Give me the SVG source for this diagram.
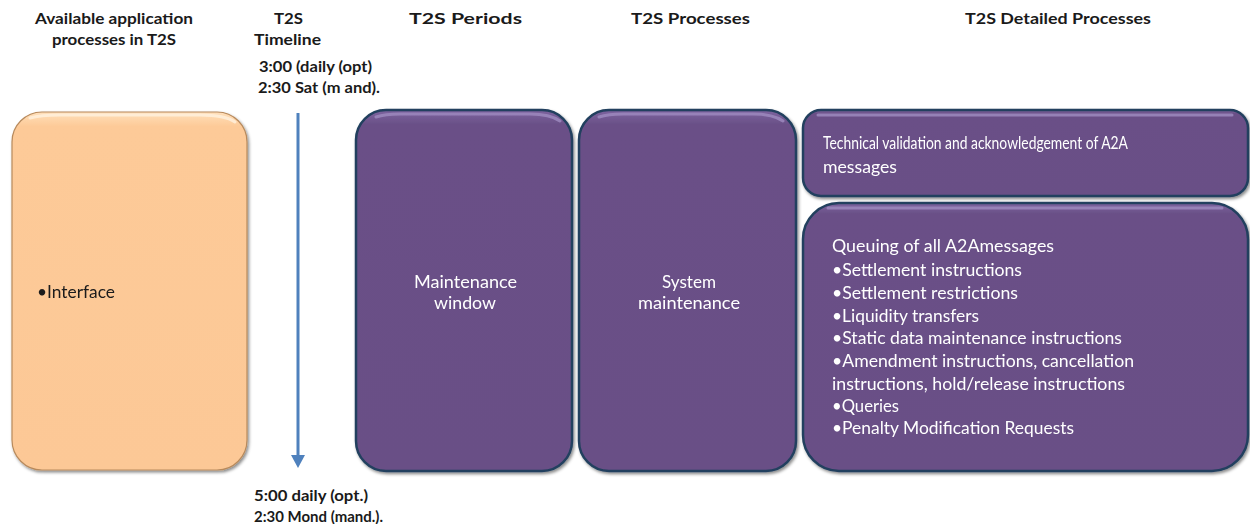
<svg xmlns="http://www.w3.org/2000/svg" width="1250" height="524" viewBox="0 0 1250 524">
<defs>
<style>
.hdr{font-family:Lato,"Liberation Sans",Arial,sans-serif;font-weight:bold;font-size:15.5px;fill:#1a1a1a}
.tl{font-family:Lato,"Liberation Sans",Arial,sans-serif;font-weight:bold;font-size:15px;fill:#1a1a1a}
.wt{font-family:Lato,"Liberation Sans",Arial,sans-serif;font-size:16.5px;fill:#ffffff}
.blk{font-family:Lato,"Liberation Sans",Arial,sans-serif;font-size:16.5px;fill:#1a1a1a}
.pbox{fill:url(#pg);stroke:#22405e;stroke-width:2.5}
.obox{fill:url(#og);stroke:#b88a5c;stroke-width:1.2}
.hl{fill:none;stroke-width:3;stroke-linecap:round}
</style>
<linearGradient id="pg" x1="0" y1="0" x2="0" y2="1">
<stop offset="0" stop-color="#7d64a0"/>
<stop offset="0.04" stop-color="#6a5087"/>
<stop offset="1" stop-color="#694f86"/>
</linearGradient>
<linearGradient id="og" x1="0" y1="0" x2="0" y2="1">
<stop offset="0" stop-color="#ffe0bb"/>
<stop offset="0.04" stop-color="#fdca98"/>
<stop offset="1" stop-color="#fcc896"/>
</linearGradient>
<filter id="sh" x="-10%" y="-10%" width="120%" height="120%">
<feDropShadow dx="1.5" dy="2" stdDeviation="1.5" flood-color="#000" flood-opacity="0.45"/>
</filter>
</defs>

<g id="headers">
<text class="hdr" x="35" y="24" textLength="158" lengthAdjust="spacingAndGlyphs">Available application</text>
<text class="hdr" x="52" y="45" textLength="124" lengthAdjust="spacingAndGlyphs">processes in T2S</text>
<text class="hdr" x="274" y="24" textLength="29" lengthAdjust="spacingAndGlyphs">T2S</text>
<text class="hdr" x="254" y="45" textLength="67" lengthAdjust="spacingAndGlyphs">Timeline</text>
<text class="hdr" x="409" y="24" textLength="113" lengthAdjust="spacingAndGlyphs">T2S Periods</text>
<text class="hdr" x="631" y="24" textLength="119" lengthAdjust="spacingAndGlyphs">T2S Processes</text>
<text class="hdr" x="965" y="24" textLength="186" lengthAdjust="spacingAndGlyphs">T2S Detailed Processes</text>
</g>

<g id="timeline-labels">
<text class="tl" x="259" y="72" textLength="113" lengthAdjust="spacingAndGlyphs">3:00 (daily (opt)</text>
<text class="tl" x="258" y="93" textLength="122" lengthAdjust="spacingAndGlyphs">2:30 Sat (m and).</text>
<text class="tl" x="254" y="501" textLength="114" lengthAdjust="spacingAndGlyphs">5:00 daily (opt.)</text>
<text class="tl" x="254" y="522" textLength="129" lengthAdjust="spacingAndGlyphs">2:30 Mond (mand.).</text>
</g>

<g id="connectors">
<line x1="298" y1="113" x2="298" y2="456" stroke="#4f81bd" stroke-width="3"/>
<polygon points="291,455 305,455 298,468" fill="#4f81bd"/>
</g>

<g id="node-interface" filter="url(#sh)">
<rect class="obox" x="12" y="112" width="235" height="358" rx="30" ry="30"/>
<path class="hl" stroke="#fff1de" d="M30,118 Q40,115 60,115 L200,115 Q225,115 235,122" opacity="0.8"/>
<text class="blk" x="37" y="298" textLength="78" lengthAdjust="spacingAndGlyphs">•Interface</text>
</g>

<g id="node-maintenance-window" filter="url(#sh)">
<rect class="pbox" x="356" y="110" width="216" height="361" rx="30" ry="30"/>
<path class="hl" stroke="#9a86bb" d="M376,117 Q385,114 400,114 L530,114 Q550,114 560,121" opacity="0.9"/>
<text class="wt" x="414" y="288" textLength="103" lengthAdjust="spacingAndGlyphs">Maintenance</text>
<text class="wt" x="434" y="309" textLength="62" lengthAdjust="spacingAndGlyphs">window</text>
</g>

<g id="node-system-maintenance" filter="url(#sh)">
<rect class="pbox" x="579" y="110" width="217" height="361" rx="30" ry="30"/>
<path class="hl" stroke="#9a86bb" d="M599,117 Q608,114 623,114 L753,114 Q773,114 783,121" opacity="0.9"/>
<text class="wt" x="662" y="288" textLength="54" lengthAdjust="spacingAndGlyphs">System</text>
<text class="wt" x="638" y="309" textLength="102" lengthAdjust="spacingAndGlyphs">maintenance</text>
</g>

<g id="node-technical-validation" filter="url(#sh)">
<rect class="pbox" x="803" y="110" width="445" height="86" rx="18" ry="18"/>
<path class="hl" stroke="#9a86bb" d="M818,115 L1232,115" opacity="0.9"/>
<text class="wt" x="823" y="149" textLength="305" lengthAdjust="spacingAndGlyphs">Technical validation and acknowledgement of A2A</text>
<text class="wt" x="823" y="173" textLength="74" lengthAdjust="spacingAndGlyphs">messages</text>
</g>

<g id="node-queuing" filter="url(#sh)">
<rect class="pbox" x="803" y="203" width="445" height="268" rx="36" ry="36"/>
<path class="hl" stroke="#9a86bb" d="M828,208 L1222,208" opacity="0.9"/>
<text class="wt" x="832" y="252" textLength="222" lengthAdjust="spacingAndGlyphs">Queuing of all A2Amessages</text>
<text class="wt" x="832" y="276" textLength="190" lengthAdjust="spacingAndGlyphs">•Settlement  instructions</text>
<text class="wt" x="832" y="299" textLength="186" lengthAdjust="spacingAndGlyphs">•Settlement  restrictions</text>
<text class="wt" x="832" y="322" textLength="147" lengthAdjust="spacingAndGlyphs">•Liquidity transfers</text>
<text class="wt" x="832" y="344" textLength="290" lengthAdjust="spacingAndGlyphs">•Static data maintenance instructions</text>
<text class="wt" x="832" y="367" textLength="302" lengthAdjust="spacingAndGlyphs">•Amendment  instructions, cancellation</text>
<text class="wt" x="832" y="390" textLength="293" lengthAdjust="spacingAndGlyphs">instructions, hold/release instructions</text>
<text class="wt" x="832" y="412" textLength="67" lengthAdjust="spacingAndGlyphs">•Queries</text>
<text class="wt" x="832" y="434" textLength="242" lengthAdjust="spacingAndGlyphs">•Penalty Modification Requests</text>
</g>
</svg>
